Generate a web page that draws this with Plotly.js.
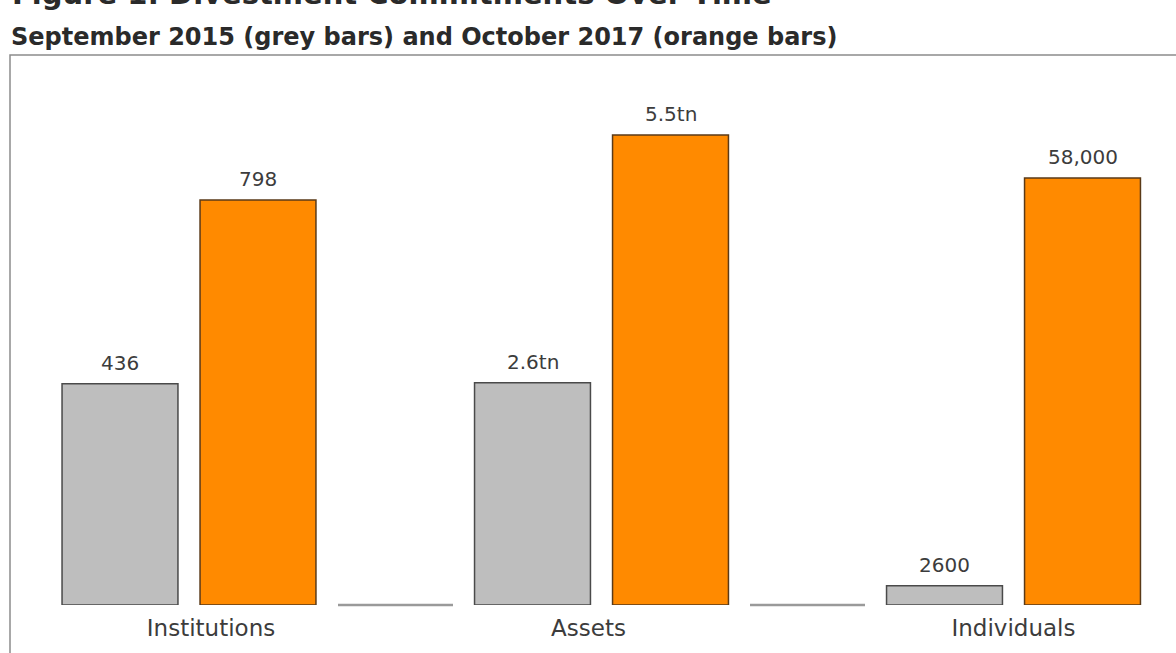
<!DOCTYPE html>
<html>
<head>
<meta charset="utf-8">
<script src="https://cdn.plot.ly/plotly-3.0.1.min.js"></script>
<style>html,body{margin:0;padding:0;background:#fff;}#chart{width:1176px;height:653px;}</style>
</head>
<body>
<div id="chart"></div>
<script>
// Data
const categories = ["Institutions", "Assets", "Individuals"];
const sep2015Values = [436, 2.6, 2600];        // Institutions (count), Assets (US$ tn), Individuals (count)
const oct2017Values = [798, 5.5, 58000];
const sep2015Labels = ["436", "2.6tn", "2600"];
const oct2017Labels = ["798", "5.5tn", "58,000"];
const seriesNames = ["September 2015", "October 2017"];

// Each category is drawn on its own scale (independent panels)
const headroom = [1.358, 1.170, 1.288];

const W = 1176, H = 653;
const px = v => v / W;
const slots = [[51, 327], [463.5, 739.5], [875.5, 1151.5]];
const labelShift = [22, -13, 0];

const greyColor = "#bebebe", orangeColor = "#ff8a00";
const textColor = "#3c3c3c";
const fontFam = "DejaVu Sans, Liberation Sans, Arial, sans-serif";

const traces = [];
const layout = {
  width: W, height: H,
  margin: {l: 0, r: 0, t: 55, b: 48},
  paper_bgcolor: "#fff", plot_bgcolor: "rgba(0,0,0,0)",
  showlegend: false,
  barmode: "group", bargap: 0, bargroupgap: 0.16,
  font: {family: fontFam, color: textColor},
  shapes: [], annotations: []
};

categories.forEach((cat, i) => {
  const xa = i === 0 ? "x" : "x" + (i + 1);
  const ya = i === 0 ? "y" : "y" + (i + 1);
  traces.push({
    type: "bar", name: seriesNames[0], x: [cat], y: [sep2015Values[i]],
    xaxis: xa, yaxis: ya,
    marker: {color: greyColor, line: {color: "#4a4a4a", width: 1.5}},
    hoverinfo: "skip"
  });
  traces.push({
    type: "bar", name: seriesNames[1], x: [cat], y: [oct2017Values[i]],
    xaxis: xa, yaxis: ya,
    marker: {color: orangeColor, line: {color: "#5a3a18", width: 1.5}},
    hoverinfo: "skip"
  });
  // value labels above bars
  [[sep2015Values[i], sep2015Labels[i], -69], [oct2017Values[i], oct2017Labels[i], 69]].forEach(d => {
    layout.annotations.push({
      xref: xa, yref: ya, x: cat, y: d[0], xshift: d[2], yshift: 7,
      xanchor: "center", yanchor: "bottom", showarrow: false,
      text: d[1], font: {size: 20, color: textColor, family: fontFam}
    });
  });
  const maxV = Math.max(sep2015Values[i], oct2017Values[i]);
  layout[i === 0 ? "xaxis" : "xaxis" + (i + 1)] = {
    domain: [px(slots[i][0]), px(slots[i][1])], anchor: ya, type: "category",
    showgrid: false, zeroline: false, showline: false, ticks: "",
    tickfont: {size: 23, color: textColor, family: fontFam},
    ticklabelshift: labelShift[i], ticklabelstandoff: 7, fixedrange: true
  };
  layout[i === 0 ? "yaxis" : "yaxis" + (i + 1)] = {
    domain: [0, 1], anchor: xa, range: [0, maxV * headroom[i]],
    showgrid: false, zeroline: false, showline: false, showticklabels: false, ticks: "",
    fixedrange: true
  };
});

// separators between groups at the baseline
[[338, 453], [750, 865]].forEach(s => {
  layout.shapes.push({type: "line", xref: "paper", yref: "paper",
    x0: px(s[0]), x1: px(s[1]), y0: 0, y1: 0,
    line: {color: "#9a9a9a", width: 2.5}});
});
// frame
layout.shapes.push({type: "rect", xref: "paper", yref: "paper",
  x0: px(10), x1: 1.01, y0: -0.2, y1: 1,
  line: {color: "#8c8c8c", width: 1.5}, fillcolor: "rgba(0,0,0,0)", layer: "below"});

// titles (the main title is cut off at the top edge in the reference)
layout.annotations.push({
  xref: "paper", yref: "paper", x: px(10), y: 1 + (55 + 6) / 550,
  xanchor: "left", yanchor: "middle", showarrow: false,
  text: "<b>Figure 1: Divestment Commitments Over Time</b>",
  font: {size: 29, color: "#2a2a2a", family: fontFam}
});
layout.annotations.push({
  xref: "paper", yref: "paper", x: px(9), y: 1 + (55 - 37) / 550,
  xanchor: "left", yanchor: "middle", showarrow: false,
  text: "<b>September 2015 (grey bars) and October 2017 (orange bars)</b>",
  font: {size: 24, color: "#2a2a2a", family: fontFam}
});

Plotly.newPlot("chart", traces, layout, {displayModeBar: false, staticPlot: true});
</script>
</body>
</html>
